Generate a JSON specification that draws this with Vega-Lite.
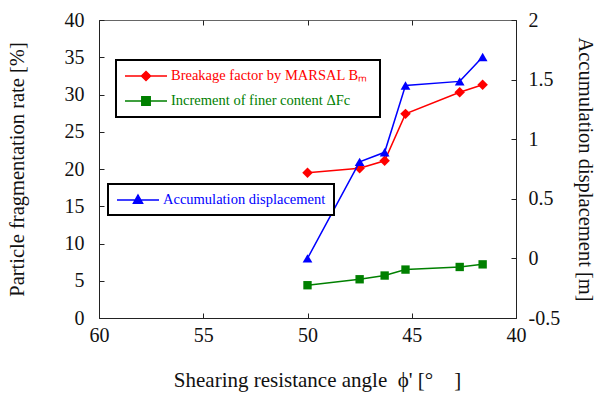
{
  "$schema": "https://vega.github.io/schema/vega-lite/v6.json",
  "width": 417,
  "height": 298,
  "autosize": "none",
  "padding": {"left": 99, "top": 20, "right": 85, "bottom": 76},
  "config": {
    "font": "Liberation Serif, Times New Roman, serif",
    "view": {"stroke": "#666", "strokeWidth": 1},
    "axis": {
      "grid": false,
      "domainColor": "#222",
      "tickColor": "#222",
      "labelFont": "Liberation Serif, Times New Roman, serif",
      "titleFont": "Liberation Serif, Times New Roman, serif",
      "labelFontSize": 20,
      "titleFontSize": 21,
      "labelColor": "#111",
      "titleColor": "#111",
      "titleFontWeight": "normal",
      "tickSize": -5,
      "labelPadding": 12,
      "labelFlush": false
    },
    "legend": {
      "orient": "none",
      "title": null,
      "strokeColor": "black",
      "strokeWidth": 2,
      "fillColor": "white",
      "padding": 8,
      "labelFont": "Liberation Serif, Times New Roman, serif",
      "labelFontSize": 14.5,
      "labelLimit": 400,
      "symbolSize": 196,
      "symbolStrokeWidth": 1.5,
      "symbolOffset": 14,
      "labelOffset": 17,
      "rowPadding": 9
    }
  },
  "datasets": {
    "d": [
      {"angle": 50, "series": "Breakage factor by MARSAL  Bₘ", "value": 19.5},
      {"angle": 47.5, "series": "Breakage factor by MARSAL  Bₘ", "value": 20.1},
      {"angle": 46.3, "series": "Breakage factor by MARSAL  Bₘ", "value": 21.1},
      {"angle": 45.3, "series": "Breakage factor by MARSAL  Bₘ", "value": 27.4},
      {"angle": 42.7, "series": "Breakage factor by MARSAL  Bₘ", "value": 30.3},
      {"angle": 41.6, "series": "Breakage factor by MARSAL  Bₘ", "value": 31.3},
      {"angle": 50, "series": "Increment of finer content ΔFc", "value": 4.4},
      {"angle": 47.5, "series": "Increment of finer content ΔFc", "value": 5.2},
      {"angle": 46.3, "series": "Increment of finer content ΔFc", "value": 5.7},
      {"angle": 45.3, "series": "Increment of finer content ΔFc", "value": 6.5},
      {"angle": 42.7, "series": "Increment of finer content ΔFc", "value": 6.85},
      {"angle": 41.6, "series": "Increment of finer content ΔFc", "value": 7.2},
      {"angle": 50, "series": "Accumulation displacement", "value": 0.0},
      {"angle": 47.5, "series": "Accumulation displacement", "value": 0.81},
      {"angle": 46.3, "series": "Accumulation displacement", "value": 0.89},
      {"angle": 45.3, "series": "Accumulation displacement", "value": 1.45},
      {"angle": 42.7, "series": "Accumulation displacement", "value": 1.485},
      {"angle": 41.6, "series": "Accumulation displacement", "value": 1.69}
    ]
  },
  "data": {"name": "d"},
  "layer": [
    {
      "transform": [{"filter": "datum.series !== 'Accumulation displacement'"}],
      "encoding": {
        "x": {
          "field": "angle",
          "type": "quantitative",
          "scale": {"domain": [40, 60], "reverse": true, "nice": false, "zero": false},
          "axis": {"values": [60, 55, 50, 45, 40], "title": "Shearing resistance angle\u00a0\u00a0ϕ' [°\u00a0\u00a0\u00a0\u00a0]", "titlePadding": 24, "titleX": 218}
        },
        "y": {
          "field": "value",
          "type": "quantitative",
          "scale": {"domain": [0, 40], "nice": false, "zero": false},
          "axis": {"values": [0, 5, 10, 15, 20, 25, 30, 35, 40], "title": "Particle fragmentation rate [%]", "titleFontSize": 20.5, "labelPadding": 20, "titlePadding": 37}
        },
        "color": {
          "field": "series",
          "type": "nominal",
          "scale": {"domain": ["Breakage factor by MARSAL  Bₘ", "Increment of finer content ΔFc"], "range": ["#ff0000", "#008000"]},
          "legend": {
            "legendX": 17,
            "legendY": 40,
            "encode": {
              "symbols": {"update": {
                "shape": {"signal": "indexof(datum.value, 'Breakage') === 0 ? 'M-3,0H3M0,-0.65L0.65,0L0,0.65L-0.65,0Z' : 'M-3,0H3M-0.6,-0.6H0.6V0.6H-0.6Z'"},
                "fill": {"signal": "indexof(datum.value, 'Breakage') === 0 ? '#ff0000' : '#008000'"},
                "stroke": {"signal": "indexof(datum.value, 'Breakage') === 0 ? '#ff0000' : '#008000'"},
                "opacity": {"value": 1}
              }},
              "labels": {"update": {
                "fill": {"signal": "indexof(datum.value, 'Breakage') === 0 ? '#ff0000' : '#008000'"}
              }}
            }
          }
        }
      },
      "layer": [
        {"mark": {"type": "line", "strokeWidth": 1.5}},
        {
          "transform": [{"filter": "indexof(datum.series, 'Breakage') === 0"}],
          "mark": {"type": "point", "filled": true, "opacity": 1, "shape": "diamond", "size": 110}
        },
        {
          "transform": [{"filter": "indexof(datum.series, 'Increment') === 0"}],
          "mark": {"type": "point", "filled": true, "opacity": 1, "shape": "square", "size": 70}
        }
      ]
    },
    {
      "transform": [{"filter": "datum.series === 'Accumulation displacement'"}],
      "encoding": {
        "x": {
          "field": "angle",
          "type": "quantitative",
          "axis": {"orient": "top", "values": [60, 55, 50, 45, 40], "labels": false, "title": null, "domain": false}
        },
        "y": {
          "field": "value",
          "type": "quantitative",
          "scale": {"domain": [-0.5, 2], "nice": false, "zero": false},
          "axis": {"orient": "right", "values": [-0.5, 0, 0.5, 1, 1.5, 2], "labelExpr": "'' + datum.value", "title": "Accumulation displacement [m]", "titleFontSize": 20.5, "labelPadding": 17, "titlePadding": 15}
        },
        "color": {
          "field": "series",
          "type": "nominal",
          "scale": {"domain": ["Accumulation displacement"], "range": ["#0000ff"]},
          "legend": {
            "legendX": 9,
            "legendY": 164,
            "labelColor": "#0000ff",
            "encode": {
              "symbols": {"update": {
                "shape": {"value": "M-3,0H3M0,-0.7L0.65,0.45L-0.65,0.45Z"},
                "fill": {"value": "#0000ff"},
                "stroke": {"value": "#0000ff"},
                "opacity": {"value": 1}
              }}
            }
          }
        }
      },
      "layer": [
        {"mark": {"type": "line", "strokeWidth": 1.5}},
        {"mark": {"type": "point", "filled": true, "opacity": 1, "shape": "triangle-up", "size": 95}}
      ]
    }
  ],
  "resolve": {
    "scale": {"y": "independent", "color": "independent"},
    "axis": {"x": "independent"}
  }
}
